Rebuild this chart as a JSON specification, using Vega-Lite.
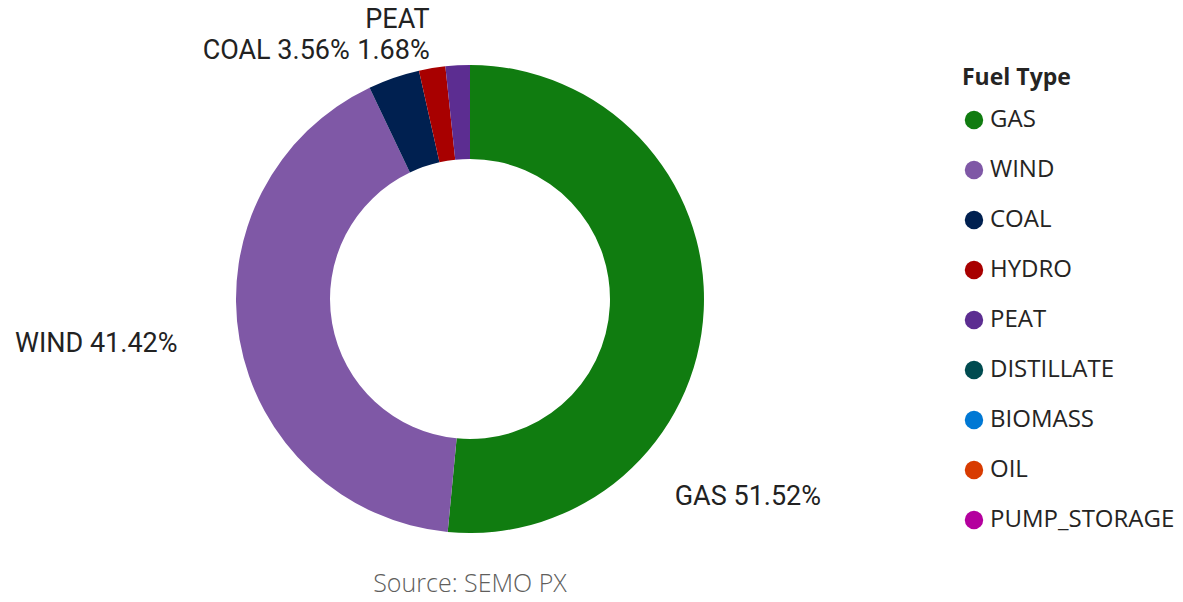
{
  "$schema": "https://vega.github.io/schema/vega-lite/v6.json",
  "autosize": "none",
  "width": 940,
  "height": 598,
  "padding": {"left": 0, "top": 0, "right": 243, "bottom": 4},
  "background": "white",
  "config": {"view": {"stroke": null}},
  "title": {"text": "Source: SEMO PX", "orient": "bottom", "anchor": "middle", "font": "Open Sans", "fontSize": 25, "fontWeight": 300, "color": "#605E5C", "offset": -26},
  "data": {
    "values": [
      {"fuel": "GAS", "share": 51.52, "label": "GAS 51.52%"},
      {"fuel": "WIND", "share": 41.42, "label": "WIND 41.42%"},
      {"fuel": "COAL", "share": 3.56, "label": "COAL 3.56%"},
      {"fuel": "HYDRO", "share": 1.82, "label": "HYDRO 1.82%"},
      {"fuel": "PEAT", "share": 1.68, "label": "PEAT 1.68%"},
      {"fuel": "DISTILLATE", "share": 0, "label": ""},
      {"fuel": "BIOMASS", "share": 0, "label": ""},
      {"fuel": "OIL", "share": 0, "label": ""},
      {"fuel": "PUMP_STORAGE", "share": 0, "label": ""}
    ]
  },
  "encoding": {
    "theta": {"field": "share", "type": "quantitative", "stack": true},
    "order": {"field": "share", "type": "quantitative", "sort": "descending"}
  },
  "layer": [
    {
      "mark": {"type": "arc", "outerRadius": 234, "innerRadius": 140},
      "encoding": {
        "color": {
          "field": "fuel",
          "type": "nominal",
          "title": "Fuel Type",
          "scale": {
            "domain": ["GAS", "WIND", "COAL", "HYDRO", "PEAT", "DISTILLATE", "BIOMASS", "OIL", "PUMP_STORAGE"],
            "range": ["#107C10", "#7F58A6", "#002050", "#A80000", "#5C2D91", "#004B50", "#0078D4", "#D83B01", "#B4009E"]
          },
          "legend": {
            "orient": "none",
            "legendX": 962,
            "legendY": 67,
            "symbolType": "circle",
            "symbolSize": 340,
            "symbolStrokeWidth": 0,
            "titleFont": "Open Sans",
            "titleFontSize": 23,
            "titleFontWeight": "bold",
            "titleColor": "#252423",
            "titlePadding": 18,
            "labelFont": "Open Sans",
            "labelFontSize": 24,
            "labelColor": "#252423",
            "labelOffset": 4,
            "rowPadding": 26,
            "labelLimit": 300
          }
        }
      }
    },
    {
      "mark": {"type": "text", "radius": 234, "align": "left", "baseline": "middle", "font": "Roboto", "fontSize": 27, "color": "#222222", "dx": -29, "dy": 187},
      "encoding": {"text": {"condition": {"test": "datum.fuel === 'GAS'", "field": "label"}, "value": ""}}
    },
    {
      "mark": {"type": "text", "radius": 234, "align": "right", "baseline": "middle", "font": "Roboto", "fontSize": 27, "color": "#222222", "dx": -62, "dy": 4},
      "encoding": {"text": {"condition": {"test": "datum.fuel === 'WIND'", "field": "label"}, "value": ""}}
    },
    {
      "mark": {"type": "text", "radius": 234, "align": "right", "baseline": "middle", "font": "Roboto", "fontSize": 27, "color": "#222222", "dx": -44, "dy": -27},
      "encoding": {"text": {"condition": {"test": "datum.fuel === 'COAL'", "field": "label"}, "value": ""}}
    },
    {
      "mark": {"type": "text", "radius": 234, "align": "right", "baseline": "middle", "font": "Roboto", "fontSize": 27, "color": "#222222", "dx": -28, "dy": -45, "lineHeight": 31, "lineBreak": " "},
      "encoding": {"text": {"condition": {"test": "datum.fuel === 'PEAT'", "field": "label"}, "value": ""}}
    }
  ]
}
